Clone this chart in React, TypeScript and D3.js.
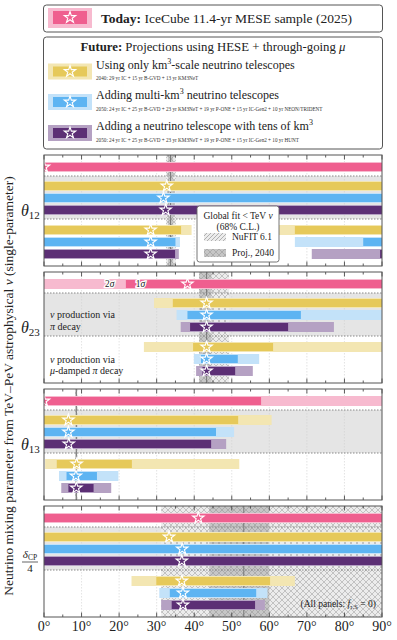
import React from "react";
import * as d3 from "d3";

// panel order: theta12, theta23, theta13, deltaCP/4 ; experiments: km3, multi-km3, tens of km3
const panelNames = ["t12", "t23", "t13", "dcp"];
const expNames = ["km3", "multi", "tens"];

const todayDark = [[[0, 90]], [[21.8, 90]], [[0, 57.8]], [[0, 90]]];
const todayLight = [[[0, 90]], [[0, 90]], [[0, 90]], [[0, 90]]];
const todayStar = [0, 38.2, 0, 41.1];

const piDark = [
  [[[0, 90]], [[0, 90]], [[0, 90]]],
  [[[34.3, 90]], [[38.2, 68.4]], [[38.9, 65]]],
  [[[0, 51.7]], [[0, 45.8]], [[0, 44.5]]],
  [[[0, 90]], [[0, 90]], [[0, 90]]],
];
const piLight = [
  [[[0, 90]], [[0, 90]], [[0, 90]]],
  [[[29.3, 90]], [[35.3, 90]], [[36.4, 77.2]]],
  [[[0, 60.6]], [[0, 50.6]], [[0, 48.5]]],
  [[[0, 90]], [[0, 90]], [[0, 90]]],
];
const piStar = [[32.7, 31.8, 32.4], [43.3, 43.3, 43.3], [6.5, 6.5, 6.6], [33.3, 36.8, 36.7]];

const muDark = [
  [[[0, 36.5], [66.8, 90]], [[0, 35], [85, 90]], [[0, 34.9], [89.5, 90]]],
  [[[39.7, 61]], [[41.8, 51.6]], [[42.2, 50.9]]],
  [[[3.4, 23.4]], [[6, 14.1]], [[6.5, 13.2]]],
  [[[29.9, 60.2]], [[33.5, 56.5]], [[34, 56.2]]],
];
const muLight = [
  [[[0, 39.3], [60, 90]], [[0, 36.2], [66.8, 90]], [[0, 35.9], [71.3, 90]]],
  [[[26.6, 90]], [[39.9, 57.3]], [[40.5, 55.6]]],
  [[[0.3, 52]], [[4, 19.8]], [[4.6, 17.9]]],
  [[[23.3, 66.8]], [[30.7, 59.5]], [[31.2, 58.8]]],
];
const muStar = [[28.4, 28.4, 28.4], [43.3, 43.3, 43.3], [8.7, 8.5, 8.6], [36.7, 37, 37]];

// global fit < TeV
const wideBand = [[32.5, 35.1], [41.3, 49.3], [8.3, 8.9], [31.2, 90]];
const innerBand = [[33.0, 34.4], [41.3, 44.6], [8.4, 8.8], [44, 60]];
const bestFit = [33.7, 43.3, 8.6, 53.2];

const xTicks = [0, 10, 20, 30, 40, 50, 60, 70, 80, 90];

const pink = { dark: "#ef5f8f", light: "#f7bacf" };
const expColors = [
  { dark: "#e6c95a", light: "#f3e6b2" },
  { dark: "#5db4f2", light: "#c3e2f9" },
  { dark: "#5c2f75", light: "#b5a1c3" },
];

const panelTops = [155, 272, 389, 506];
const panelH = 111;
const W = 397, H = 640;
const FONT = "'Liberation Serif', 'DejaVu Serif', serif";

const x = d3.scaleLinear().domain([0, 90]).range([44, 382]);
const star = d3.symbol(d3.symbolStar, 40)();

function Bars({ segs, y, h, color }: any) {
  return (
    <>
      {segs.map((s: number[], i: number) => (
        <rect key={i} x={x(s[0])} y={y - h / 2} width={x(s[1]) - x(s[0])} height={h} fill={color} />
      ))}
    </>
  );
}

function Star({ v, y }: any) {
  return <path d={star!} transform={`translate(${x(v)},${y})`} fill="none" stroke="#fff" strokeWidth={1.1} />;
}

function Panel({ p }: any) {
  const top = panelTops[p];
  const bot = top + panelH;
  const todayY = top + 12;
  const line1 = top + 21;
  const line2 = top + 64;
  const piY = d3.scaleLinear().domain([0, 1]).range([top + 31, top + 43]);
  const muY = d3.scaleLinear().domain([0, 1]).range([top + 75, top + 87]);
  const minor = d3.range(0, 91, 5);
  return (
    <g>
      <defs>
        <clipPath id={`clip${p}`}>
          <rect x={x(0)} y={top} width={x(90) - x(0)} height={panelH} />
        </clipPath>
      </defs>
      <rect x={x(0)} y={top} width={x(90) - x(0)} height={panelH} fill="#fff" />
      <g clipPath={`url(#clip${p})`}>
        <rect x={x(0)} y={line1} width={x(90) - x(0)} height={line2 - line1} fill="#e5e5e5" />
        {xTicks.slice(1, -1).map((t) => (
          <line key={t} x1={x(t)} x2={x(t)} y1={top} y2={bot} stroke="#d0d0d0" strokeWidth={0.6} strokeDasharray="1.5,1.5" />
        ))}
        <rect x={x(wideBand[p][0])} y={top} width={x(wideBand[p][1]) - x(wideBand[p][0])} height={panelH} fill="url(#crossL)" />
        <rect x={x(innerBand[p][0])} y={top} width={x(innerBand[p][1]) - x(innerBand[p][0])} height={panelH} fill="url(#crossD)" />
        <line x1={x(bestFit[p])} x2={x(bestFit[p])} y1={top} y2={bot} stroke="#777" strokeWidth={1} />
        {[line1, line2].map((ly) => (
          <line key={ly} x1={x(0)} x2={x(90)} y1={ly} y2={ly} stroke="#888" strokeWidth={1} strokeDasharray="1.5,1.5" />
        ))}
        <Bars segs={todayLight[p]} y={todayY} h={10} color={pink.light} />
        <Bars segs={todayDark[p]} y={todayY} h={8} color={pink.dark} />
        {expNames.map((e, i) => (
          <g key={e}>
            <Bars segs={piLight[p][i]} y={piY(i)} h={10} color={expColors[i].light} />
            <Bars segs={piDark[p][i]} y={piY(i)} h={8} color={expColors[i].dark} />
            <Bars segs={muLight[p][i]} y={muY(i)} h={10} color={expColors[i].light} />
            <Bars segs={muDark[p][i]} y={muY(i)} h={8} color={expColors[i].dark} />
          </g>
        ))}
        {p === 1 && (
          <g fontFamily={FONT} fontSize={9.5} fill="#222" textAnchor="middle">
            <text x={x(17.5)} y={todayY + 3.3} stroke="#fff" strokeWidth={2.5} paintOrder="stroke">2<tspan fontStyle="italic">σ</tspan></text>
            <text x={x(25.7)} y={todayY + 3.3} stroke="#fff" strokeWidth={2.5} paintOrder="stroke">1<tspan fontStyle="italic">σ</tspan></text>
          </g>
        )}
        {expNames.map((e, i) => (
          <g key={e}>
            <Star v={piStar[p][i]} y={piY(i)} />
            <Star v={muStar[p][i]} y={muY(i)} />
          </g>
        ))}
      </g>
      <Star v={todayStar[p]} y={todayY} />
      {minor.map((t) => (
        <g key={t} stroke="#333" strokeWidth={0.8}>
          <line x1={x(t)} x2={x(t)} y1={top} y2={top + (t % 10 === 0 ? 4.5 : 2.5)} />
          <line x1={x(t)} x2={x(t)} y1={bot} y2={bot - (t % 10 === 0 ? 4.5 : 2.5)} />
        </g>
      ))}
      <rect x={x(0)} y={top} width={x(90) - x(0)} height={panelH} fill="none" stroke="#555" strokeWidth={1} />
    </g>
  );
}

function ThetaLabel({ sub, y }: any) {
  return (
    <text x={21} y={y + 5} fontFamily={FONT} fontSize={16} fill="#222">
      <tspan fontStyle="italic">θ</tspan>
      <tspan fontSize={11} dy={3}>{sub}</tspan>
    </text>
  );
}

export default function App() {
  const legendRows = [
    { y: 71.5, title: "Using only km", rest: "-scale neutrino telescopes", sub: "2040: 29 yr IC + 15 yr B-GVD + 13 yr KM3NeT" },
    { y: 102, title: "Adding multi-km", rest: " neutrino telescopes", sub: "2050: 24 yr IC + 25 yr B-GVD + 23 yr KM3NeT + 19 yr P-ONE + 15 yr IC-Gen2 + 10 yr NEON/TRIDENT" },
    { y: 133, title: "Adding a neutrino telescope with tens of km", rest: "", sub: "2050: 24 yr IC + 25 yr B-GVD + 23 yr KM3NeT + 19 yr P-ONE + 15 yr IC-Gen2 + 10 yr HUNT" },
  ];
  return (
    <svg width={W} height={H} style={{ position: "absolute", left: 0, top: 0 }} fontFamily={FONT}>
      <defs>
        <pattern id="crossL" width={6} height={6} patternUnits="userSpaceOnUse">
          <rect width={6} height={6} fill="#ececec" />
          <path d="M0,0L6,6M6,0L0,6" stroke="#a6a6a6" strokeWidth={0.6} />
        </pattern>
        <pattern id="crossD" width={6} height={6} patternUnits="userSpaceOnUse">
          <rect width={6} height={6} fill="#c6c6c6" />
          <path d="M0,0L6,6M6,0L0,6" stroke="#9a9a9a" strokeWidth={0.6} />
        </pattern>
        <pattern id="hatch" width={4} height={4} patternUnits="userSpaceOnUse">
          <rect width={4} height={4} fill="#ececec" />
          <path d="M0,4L4,0M-1,1L1,-1M3,5L5,3" stroke="#888" strokeWidth={0.6} />
        </pattern>
      </defs>
      <rect width={W} height={H} fill="#fff" />

      {/* legend: today */}
      <rect x={43.5} y={5} width={339} height={27} rx={3} fill="#fff" stroke="#555" />
      <rect x={48} y={8} width={44} height={20} fill={pink.light} />
      <rect x={53} y={11} width={34} height={13} fill={pink.dark} />
      <path d={star!} transform="translate(70,17.5)" fill="none" stroke="#fff" strokeWidth={1.1} />
      <text x={101} y={23} fontSize={13.5} fill="#222">
        <tspan fontWeight="bold">Today:</tspan> IceCube 11.4-yr MESE sample (2025)
      </text>

      {/* legend: future */}
      <rect x={43.5} y={37} width={339} height={112} rx={3} fill="#fff" stroke="#555" />
      <text x={213} y={51} fontSize={12.8} textAnchor="middle" fill="#222">
        <tspan fontWeight="bold">Future:</tspan> Projections using HESE + through-going <tspan fontStyle="italic">μ</tspan>
      </text>
      {legendRows.map((r, i) => (
        <g key={i}>
          <rect x={48} y={r.y - 8} width={44} height={16} fill={expColors[i].light} />
          <rect x={53} y={r.y - 5} width={34} height={10} fill={expColors[i].dark} />
          <path d={star!} transform={`translate(70,${r.y})`} fill="none" stroke="#fff" strokeWidth={1.1} />
          <text x={96} y={r.y - 3} fontSize={12} fill="#222">
            {r.title}
            <tspan fontSize={8} dy={-5}>3</tspan>
            <tspan dy={5}>{r.rest}</tspan>
          </text>
          <text x={96} y={r.y + 8.5} fontSize={5.2} fill="#333">{r.sub}</text>
        </g>
      ))}

      {panelNames.map((n, p) => (
        <Panel key={n} p={p} />
      ))}

      {/* global fit legend inside theta12 panel */}
      <g>
        <rect x={197} y={206} width={82} height={56} rx={2.5} fill="#fff" stroke="#666" strokeWidth={0.9} />
        <text x={238} y={219} fontSize={9.5} textAnchor="middle" fill="#222">
          Global fit &lt; TeV <tspan fontStyle="italic">ν</tspan>
        </text>
        <text x={238} y={230} fontSize={9.5} textAnchor="middle" fill="#222">(68% C.L.)</text>
        <rect x={204} y={233} width={22} height={8} fill="url(#hatch)" />
        <text x={232} y={240} fontSize={9.5} fill="#222">NuFIT 6.1</text>
        <rect x={204} y={249} width={22} height={8} fill="url(#crossD)" />
        <text x={232} y={256} fontSize={9.5} fill="#222">Proj., 2040</text>
      </g>

      {/* theta23 annotations */}
      <g fontSize={10} fill="#222">
        <text x={50} y={318}><tspan fontStyle="italic">ν</tspan> production via</text>
        <text x={50} y={329.5}><tspan fontStyle="italic">π</tspan> decay</text>
        <text x={50} y={362.5}><tspan fontStyle="italic">ν</tspan> production via</text>
        <text x={50} y={374}><tspan fontStyle="italic">μ</tspan>-damped <tspan fontStyle="italic">π</tspan> decay</text>
      </g>

      <text x={376} y={607} fontSize={9.5} textAnchor="end" fill="#222">
        (All panels: <tspan fontStyle="italic">f</tspan><tspan fontSize={6.5} dy={2}>τ,S</tspan><tspan dy={-2}> = 0)</tspan>
      </text>

      {/* row labels */}
      <ThetaLabel sub="12" y={panelTops[0] + 56} />
      <ThetaLabel sub="23" y={panelTops[1] + 56} />
      <ThetaLabel sub="13" y={panelTops[2] + 56} />
      <g fill="#222" textAnchor="middle">
        <text x={30} y={panelTops[3] + 52} fontSize={11}>
          <tspan fontStyle="italic">δ</tspan><tspan fontSize={7.5} dy={2}>CP</tspan>
        </text>
        <line x1={22} x2={38} y1={panelTops[3] + 56} y2={panelTops[3] + 56} stroke="#222" strokeWidth={0.7} />
        <text x={30} y={panelTops[3] + 66} fontSize={11}>4</text>
      </g>

      <text transform="translate(13,386) rotate(-90)" fontSize={13.5} textAnchor="middle" fill="#222">
        Neutrino mixing parameter from TeV–PeV astrophysical <tspan fontStyle="italic">ν</tspan> (single-parameter)
      </text>

      {xTicks.map((t) => (
        <text key={t} x={x(t)} y={631} fontSize={14} textAnchor="middle" fill="#222">{t}°</text>
      ))}
    </svg>
  );
}
